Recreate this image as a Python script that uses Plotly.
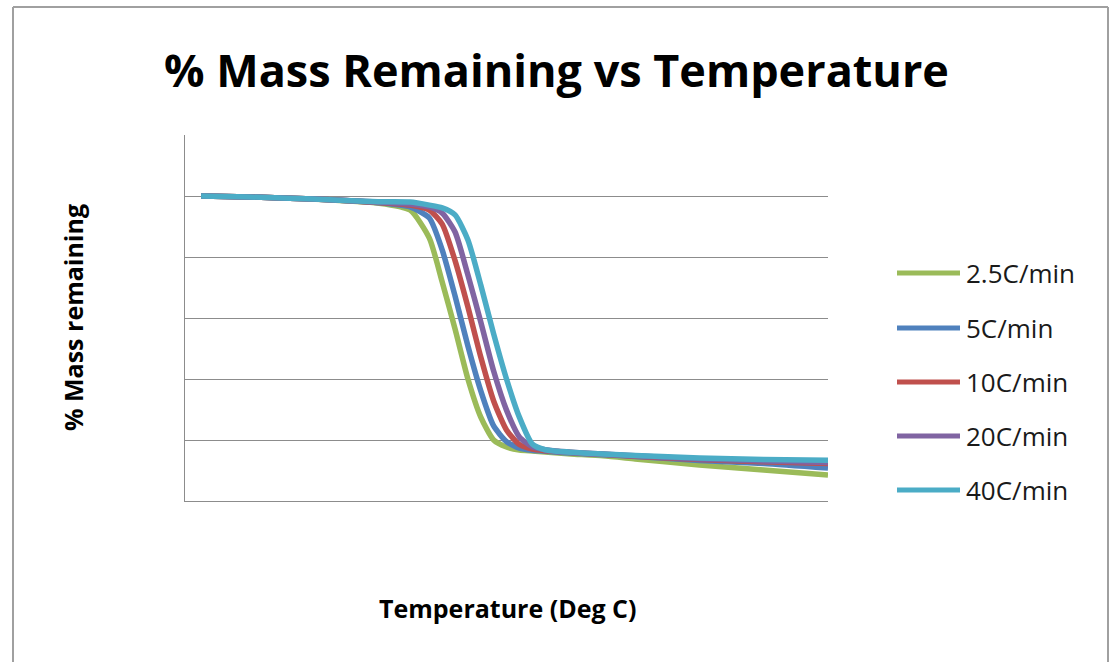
import plotly.graph_objects as go

# Shared temperature grid (deg C)
temperature = [25, 100, 200, 300, 350, 380, 400, 420, 440, 460, 480, 500, 520,
               540, 560, 580, 600, 650, 700, 800, 900, 1000]

mass_2_5 = [100, 99.7, 99.0, 97.7, 95.4, 86.2, 71.8, 56.4, 40.0, 27.5, 20.0, 17.7,
            16.7, 16.4, 16.1, 15.7, 15.4, 14.8, 13.8, 11.8, 10.2, 8.5]
mass_5 = [100, 99.7, 99.0, 97.8, 96.4, 92.8, 82.3, 67.2, 50.8, 36.1, 24.6, 19.5,
          17.3, 16.6, 16.3, 16.0, 15.7, 15.2, 14.6, 13.3, 12.3, 10.8]
mass_10 = [100, 99.7, 99.0, 97.9, 97.0, 95.4, 90.8, 78.8, 63.6, 47.2, 32.8, 23.3,
           18.5, 17.0, 16.5, 16.2, 15.9, 15.3, 14.7, 13.6, 12.9, 12.3]
mass_20 = [100, 99.7, 99.0, 98.0, 97.4, 96.4, 94.4, 88.2, 74.1, 58.7, 42.6, 29.8,
           21.0, 17.8, 16.8, 16.3, 16.0, 15.4, 14.8, 13.8, 13.1, 12.6]
mass_40 = [100, 99.7, 99.0, 98.1, 98.0, 97.0, 96.1, 93.8, 85.6, 70.8, 54.8, 40.0,
           27.5, 18.7, 16.8, 16.3, 16.0, 15.4, 14.9, 14.1, 13.6, 13.4]

series_names = ["2.5C/min", "5C/min", "10C/min", "20C/min", "40C/min"]
series_values = [mass_2_5, mass_5, mass_10, mass_20, mass_40]
series_colors = ["#9BBB59", "#4F81BD", "#C0504D", "#8064A2", "#4BACC6"]

W, H = 1109, 662
L, R, T, B = 185, 281, 135, 161
PW, PH = W - L - R, H - T - B


def px(x):
    return (x - L) / PW


def py(y):
    return (H - B - y) / PH


fig = go.Figure()
for name, vals, col in zip(series_names, series_values, series_colors):
    fig.add_trace(go.Scatter(
        x=temperature, y=vals, mode="lines", name=name,
        line=dict(color=col, width=5.5, shape="spline", smoothing=0.6),
    ))

grid = "#8C8C8C"
fig.update_layout(
    width=W, height=H,
    margin=dict(l=L, r=R, t=T, b=B),
    paper_bgcolor="white", plot_bgcolor="white",
    showlegend=False,
    xaxis=dict(range=[0, 1000], showticklabels=False, showgrid=False,
               zeroline=False, showline=True, linecolor=grid, linewidth=1,
               ticks=""),
    yaxis=dict(range=[0, 120], dtick=20, showticklabels=False, showgrid=True,
               gridcolor=grid, gridwidth=1, zeroline=False, showline=True,
               linecolor=grid, linewidth=1, ticks=""),
)

# Legend (drawn to match the original's long line samples)
legend_y = [273, 328, 382, 436, 490]
for name, col, ly in zip(series_names, series_colors, legend_y):
    fig.add_shape(type="line", xref="paper", yref="paper",
                  x0=px(897), x1=px(960), y0=py(ly), y1=py(ly),
                  line=dict(color=col, width=5))
    fig.add_annotation(text=name, xref="paper", yref="paper",
                       x=px(964), y=py(ly), xanchor="left", yanchor="middle",
                       showarrow=False,
                       font=dict(family="Open Sans, sans-serif", size=26, color="#1a1a1a"))

# Chart title and axis titles
fig.add_annotation(text="<b>% Mass Remaining vs Temperature</b>", xref="paper", yref="paper",
                   x=px(556), y=py(70), xanchor="center", yanchor="middle",
                   showarrow=False, font=dict(family="Open Sans, sans-serif", size=45, color="black"))
fig.add_annotation(text="<b>% Mass remaining</b>", xref="paper", yref="paper",
                   x=px(73), y=py(318), xanchor="center", yanchor="middle",
                   textangle=-90, showarrow=False,
                   font=dict(family="Open Sans, sans-serif", size=25, color="black"))
fig.add_annotation(text="<b>Temperature (Deg C)</b>", xref="paper", yref="paper",
                   x=px(508), y=py(608), xanchor="center", yanchor="middle",
                   showarrow=False, font=dict(family="Open Sans, sans-serif", size=25, color="black"))

# Outer chart border
border = dict(color="#A0A0A0", width=2)
fig.add_shape(type="line", xref="paper", yref="paper", x0=px(13), x1=px(13), y0=py(680), y1=py(7), line=border)
fig.add_shape(type="line", xref="paper", yref="paper", x0=px(13), x1=px(1108), y0=py(7), y1=py(7), line=border)
fig.add_shape(type="line", xref="paper", yref="paper", x0=px(1108), x1=px(1108), y0=py(680), y1=py(7), line=border)

fig.write_html("out.html", config={"displayModeBar": False},
               post_script="document.body.style.margin='0px';")
